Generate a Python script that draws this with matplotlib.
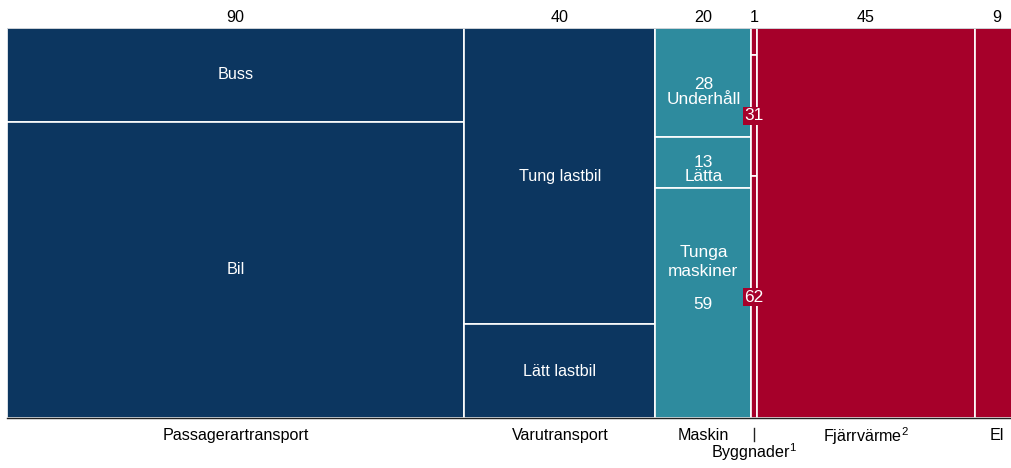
import numpy as np
import matplotlib.pyplot as plt

plt.rcParams['font.family'] = ['Liberation Sans', 'DejaVu Sans']
plt.rcParams['mathtext.fontset'] = 'custom'
plt.rcParams['mathtext.rm'] = 'Liberation Sans'
plt.rcParams['mathtext.it'] = 'Liberation Sans'
plt.rcParams['mathtext.default'] = 'regular'

# kolumner (bredd läst ur bilden) och etiketter
kolumner = ["Passagerartransport", "Varutransport", "Maskin", r"Byggnader$^{1}$", r"Fjärrvärme$^{2}$", "El"]
bredd = [93.3, 39.0, 19.6, 1.1, 44.5, 9.0]
topp_etikett = ["90", "40", "20", "1", "45", "9"]
farg = ["#0C3660", "#0C3660", "#2E8B9E", "#A6002A", "#A6002A", "#A6002A"]

# andelar i procent, uppifrån och ned
andelar = [
    [24, 76],
    [76, 24],
    [28, 13, 59],
    [7, 31, 62],
    [100],
    [100],
]
segment_text = [
    ["Buss", "Bil"],
    ["Tung lastbil", "Lätt lastbil"],
    ["28\nUnderhåll", "13\nLätta", "Tunga\nmaskiner"],
    ["", "31", "62"],
    [""],
    [""],
]

fs = 11.6
fs_stor = 12.4

fig = plt.figure(figsize=(10.12, 4.68), dpi=100)
ax = fig.add_axes([7 / 1012, 50 / 468, 1.0, 390 / 468])

x0 = 0
for i in range(len(kolumner)):
    w = bredd[i]
    topp = 100
    for j, p in enumerate(andelar[i]):
        ax.bar(x0, p, width=w, bottom=topp - p, align='edge', color=farg[i],
               edgecolor='white', linewidth=1.2)
        mitt = topp - p / 2
        txt = segment_text[i][j]
        if i == 3 and txt:
            ax.text(x0 + w / 2, mitt, txt, color='white', fontsize=fs_stor,
                    ha='center', va='center',
                    bbox=dict(facecolor=farg[i], edgecolor='none', pad=1.2))
        elif i == 2 and j == 0:
            ax.text(x0 + w / 2, mitt - 2.3, txt, color='white', fontsize=fs_stor,
                    ha='center', va='center', linespacing=1.0)
        elif i == 2 and j == 1:
            ax.text(x0 + w / 2, mitt - 1.8, txt, color='white', fontsize=fs_stor,
                    ha='center', va='center', linespacing=0.88)
        elif i == 2 and j == 2:
            ax.text(x0 + w / 2, mitt + 10.5, txt, color='white', fontsize=fs_stor,
                    ha='center', va='center', linespacing=1.4)
            ax.text(x0 + w / 2, mitt - 0.3, "59", color='white', fontsize=fs_stor,
                    ha='center', va='center')
        elif txt:
            ax.text(x0 + w / 2, mitt, txt, color='white', fontsize=fs,
                    ha='center', va='center')
        topp -= p
    ax.text(x0 + w / 2, 102.6, topp_etikett[i], fontsize=fs, ha='center', va='center',
            color='black')
    if i == 3:
        ax.text(x0 + w / 2, -8.8, kolumner[i], fontsize=fs, ha='center', va='center',
                color='black')
        ax.plot([x0 + w / 2, x0 + w / 2], [-2.5, -6.0], color='#222222', lw=1,
                clip_on=False)
    else:
        ax.text(x0 + w / 2, -4.6, kolumner[i], fontsize=fs, ha='center', va='center',
                color='black')
    x0 += w

ax.axhline(100, color='#C8CDD3', lw=1.2, zorder=3)
ax.set_xlim(0, sum(bredd))
ax.set_ylim(0, 100)
for s in ['top', 'left', 'right']:
    ax.spines[s].set_visible(False)
ax.spines['bottom'].set_color('#222222')
ax.spines['bottom'].set_linewidth(1.0)
ax.set_xticks([])
ax.set_yticks([])

fig.savefig("out.png", dpi=100)
